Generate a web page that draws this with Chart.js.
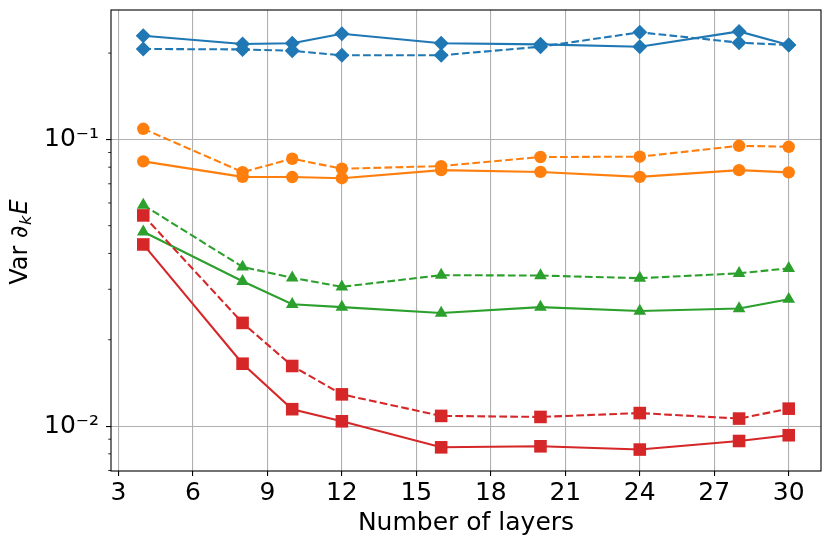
<!DOCTYPE html>
<html><head><meta charset="utf-8">
<script src="https://cdn.jsdelivr.net/npm/chart.js@4.4.0/dist/chart.umd.min.js"></script>
<style>html,body{margin:0;padding:0;background:#fff}#wrap{width:831px;height:546px;position:relative}</style>
</head><body><div id="wrap"><canvas id="c"></canvas></div>
<script>
const layers = [4, 8, 10, 12, 16, 20, 24, 28, 30];
const blueSolid    = [0.230, 0.215, 0.2165, 0.2337, 0.2165, 0.2145, 0.2105, 0.238, 0.2134];
const blueDashed   = [0.2067, 0.206, 0.2037, 0.1965, 0.1965, 0.2105, 0.2363, 0.2175, 0.2134];
const orangeSolid  = [0.0838, 0.0740, 0.0739, 0.0732, 0.0781, 0.0770, 0.0740, 0.0781, 0.0767];
const orangeDashed = [0.1089, 0.0769, 0.0856, 0.0790, 0.0807, 0.0868, 0.0870, 0.0950, 0.0942];
const greenSolid   = [0.0476, 0.0320, 0.0266, 0.0260, 0.0248, 0.0260, 0.0252, 0.0257, 0.0277];
const greenDashed  = [0.0590, 0.0359, 0.0329, 0.0306, 0.0336, 0.0335, 0.0328, 0.0341, 0.0355];
const redSolid     = [0.0430, 0.0165, 0.01145, 0.01039, 0.00843, 0.0085, 0.00828, 0.00887, 0.00929];
const redDashed    = [0.0543, 0.0229, 0.0162, 0.0129, 0.01085, 0.01076, 0.0111, 0.01062, 0.0115];
const xTicks = [3, 6, 9, 12, 15, 18, 21, 24, 27, 30];
const yMajorTicks = [0.01, 0.1];
const yTickLabels = ['10\u207B\u00B2', '10\u207B\u00B9'];
const yMinorTicks = [0.007, 0.008, 0.009, 0.02, 0.03, 0.04, 0.05, 0.06, 0.07, 0.08, 0.09, 0.2];
const xLabel = 'Number of layers';
const yLabelParts = ['Var ', '\u2202', 'k', 'E'];

const FONT = "'DejaVu Sans', sans-serif";
const FS = 25;
const LW = 2.08;
const DASH = [7.7, 3.3];

function ds(label, data, color, style, radius, dashed, order) {
  return {
    label, data: layers.map((x, i) => ({x, y: data[i]})),
    borderColor: color, backgroundColor: color, borderWidth: LW,
    borderDash: dashed ? DASH : [], pointStyle: style, pointRadius: radius,
    pointBorderWidth: 0, pointBackgroundColor: color, pointHoverRadius: radius,
    tension: 0, fill: false, order
  };
}

const datasets = [
  ds('blue solid', blueSolid, '#1f77b4', 'rectRot', 7.5, false, 8),
  ds('blue dashed', blueDashed, '#1f77b4', 'rectRot', 7.5, true, 7),
  ds('orange solid', orangeSolid, '#ff7f0e', 'circle', 6.2, false, 6),
  ds('orange dashed', orangeDashed, '#ff7f0e', 'circle', 6.2, true, 5),
  ds('green solid', greenSolid, '#2ca02c', 'triangle', 7.3, false, 4),
  ds('green dashed', greenDashed, '#2ca02c', 'triangle', 7.3, true, 3),
  ds('red solid', redSolid, '#d62728', 'rect', 8.9, false, 2),
  ds('red dashed', redDashed, '#d62728', 'rect', 8.9, true, 1)
];

const framePlugin = {
  id: 'frame',
  afterDatasetsDraw(chart) {
    const {ctx, chartArea: a} = chart;
    const ys = chart.scales.y;
    ctx.save();
    ctx.strokeStyle = '#000';
    ctx.lineWidth = 0.83;
    yMinorTicks.forEach(v => {
      const p = ys.getPixelForValue(v);
      ctx.beginPath();
      ctx.moveTo(a.left - 2.8, p);
      ctx.lineTo(a.left, p);
      ctx.stroke();
    });
    ctx.lineWidth = 1.1;
    ctx.strokeStyle = '#000';
    ctx.strokeRect(a.left, a.top, a.right - a.left, a.bottom - a.top);
    const cy = (a.top + a.bottom) / 2 + 1.5;
    ctx.translate(26.7, cy);
    ctx.rotate(-Math.PI / 2);
    ctx.fillStyle = '#000';
    ctx.textBaseline = 'alphabetic';
    const fonts = [
      '24px ' + FONT, '24px ' + FONT, 'italic 16.5px ' + FONT, 'italic 24px ' + FONT
    ];
    const offs = [0, 0, 4.5, 0];
    const gaps = [0, 0.5, 1, 0];
    const widths = yLabelParts.map((t, i) => { ctx.font = fonts[i]; return ctx.measureText(t).width + gaps[i]; });
    const total = widths.reduce((s, w) => s + w, 0);
    let x = -total / 2;
    yLabelParts.forEach((t, i) => {
      ctx.font = fonts[i];
      ctx.fillText(t, x, offs[i]);
      x += widths[i];
    });
    ctx.restore();
  }
};

new Chart(document.getElementById('c'), {
  type: 'line',
  data: { datasets },
  plugins: [framePlugin],
  options: {
    responsive: true, maintainAspectRatio: false, animation: false,
    layout: { padding: { top: 10, right: 10, bottom: 0, left: 0 } },
    plugins: { legend: { display: false }, tooltip: { enabled: false } },
    scales: {
      x: {
        type: 'linear', min: 2.7, max: 31.3,
        afterBuildTicks(s) { s.ticks = xTicks.map(v => ({value: v})); },
        afterFit(s) { s.height = 75; s.paddingLeft = 0; s.paddingRight = 0; },
        grid: { color: '#b0b0b0', lineWidth: 1.1, tickLength: 5, tickColor: '#000', tickWidth: 1.1 },
        border: { display: false },
        ticks: { color: '#000', font: { family: FONT, size: FS }, padding: 2.5, maxRotation: 0, autoSkip: false,
                 callback: v => String(v) },
        title: { display: true, text: xLabel, color: '#000', font: { family: FONT, size: FS }, padding: { top: 0, bottom: 8 } }
      },
      y: {
        type: 'logarithmic', min: 0.00697, max: 0.2827,
        afterBuildTicks(s) { s.ticks = yMajorTicks.map(v => ({value: v, major: true})); },
        afterFit(s) { s.width = 111; s.paddingTop = 0; s.paddingBottom = 0; },
        grid: { color: '#b0b0b0', lineWidth: 1.1, tickLength: 5, tickColor: '#000', tickWidth: 1.1 },
        border: { display: false },
        ticks: { color: '#000', font: { family: FONT, size: FS }, padding: 7, autoSkip: false,
                 callback: (v) => { const i = yMajorTicks.indexOf(v); return i >= 0 ? yTickLabels[i] : ''; } }
      }
    }
  }
});
</script></body></html>
